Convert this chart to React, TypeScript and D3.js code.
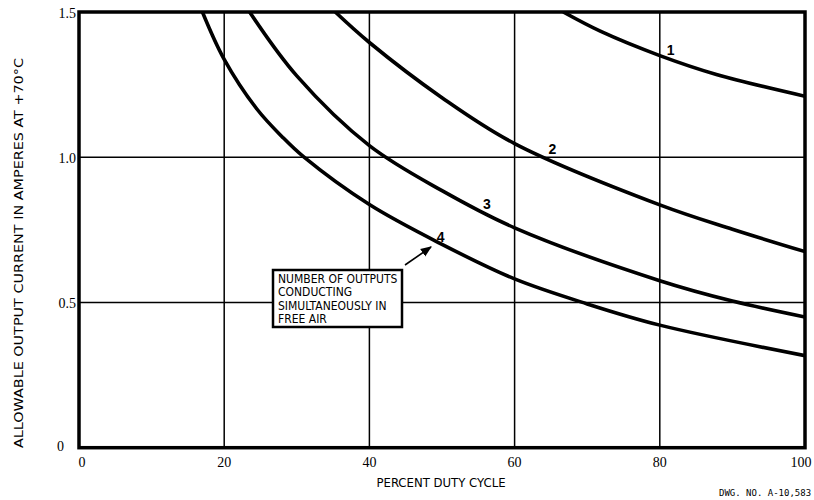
import React from "react";
import * as d3 from "d3";

const xTicks = [0, 20, 40, 60, 80, 100];
const yTicks = [0, 0.5, 1.0, 1.5];
const yTickLabels = ["0", "0.5", "1.0", "1.5"];
const xGrid = [20, 40, 60, 80];
const yGrid = [0.5, 1.0];

const curve1 = [
  [66.7, 1.5], [71.8, 1.434], [80, 1.35], [87.8, 1.285], [100, 1.21],
];
const curve2 = [
  [35.3, 1.5], [40, 1.395], [50, 1.205], [60, 1.047], [80, 0.836], [90, 0.752], [100, 0.675],
];
const curve3 = [
  [23.5, 1.5], [30, 1.28], [40, 1.04], [50, 0.885], [60, 0.757], [80, 0.575], [90, 0.505], [100, 0.45],
];
const curve4 = [
  [17, 1.5], [20, 1.337], [24.5, 1.166], [28, 1.07], [31, 1.0], [40, 0.837], [50, 0.7], [60, 0.581], [70, 0.495], [80, 0.422], [100, 0.317],
];
const curves = [curve1, curve2, curve3, curve4];
const curveLabels = [
  { text: "1", x: 81.5, y: 1.37 },
  { text: "2", x: 65.2, y: 1.03 },
  { text: "3", x: 56.2, y: 0.84 },
  { text: "4", x: 49.8, y: 0.725 },
];
const boxLines = [
  "NUMBER OF OUTPUTS",
  "CONDUCTING",
  "SIMULTANEOUSLY IN",
  "FREE AIR",
];

export default function App() {
  const x = d3.scaleLinear().domain([0, 100]).range([79, 805]);
  const y = d3.scaleLinear().domain([0, 1.5]).range([447.7, 12]);
  const line = d3
    .line<number[]>()
    .x((d) => x(d[0]))
    .y((d) => y(d[1]))
    .curve(d3.curveCatmullRom.alpha(0.5));

  const sans = "'Liberation Sans Narrow', 'DejaVu Sans Condensed', 'Liberation Sans', sans-serif";
  const serif = "'Liberation Serif', 'DejaVu Serif', serif";

  const bx = x(0) + (273 - 79);
  const by0 = y(0) - (447.7 - 270);

  return (
    <svg
      width={814}
      height={500}
      style={{ position: "absolute", left: 0, top: 0, background: "#fff" }}
    >
      <defs>
        <clipPath id="plot">
          <rect x={x(0)} y={y(1.5)} width={x(100) - x(0)} height={y(0) - y(1.5)} />
        </clipPath>
        <marker id="arr" viewBox="0 0 10 10" refX="9" refY="5" markerWidth="7" markerHeight="7" orient="auto">
          <path d="M0,1 L10,5 L0,9 z" fill="#000" />
        </marker>
      </defs>
      <rect x={0} y={0} width={814} height={500} fill="#fff" />
      {xGrid.map((v) => (
        <line key={"gx" + v} x1={x(v)} x2={x(v)} y1={y(1.5)} y2={y(0)} stroke="#000" strokeWidth={1.5} />
      ))}
      {yGrid.map((v) => (
        <line key={"gy" + v} x1={x(0)} x2={x(100)} y1={y(v)} y2={y(v)} stroke="#000" strokeWidth={1.5} />
      ))}
      <g clipPath="url(#plot)">
        {curves.map((c, i) => (
          <path key={"c" + i} d={line(c) || ""} fill="none" stroke="#000" strokeWidth={3.6} />
        ))}
      </g>
      <rect
        x={x(0)}
        y={y(1.5)}
        width={x(100) - x(0)}
        height={y(0) - y(1.5)}
        fill="none"
        stroke="#000"
        strokeWidth={3.5}
      />
      {curveLabels.map((l) => (
        <text
          key={"l" + l.text}
          x={x(l.x)}
          y={y(l.y)}
          fontFamily="'Liberation Sans', Arial, sans-serif"
          fontWeight="bold"
          fontSize={14}
          textAnchor="middle"
          dominantBaseline="central"
        >
          {l.text}
        </text>
      ))}
      <line x1={405} y1={265} x2={431} y2={247} stroke="#000" strokeWidth={1.6} markerEnd="url(#arr)" />
      <rect x={bx} y={by0} width={129} height={57} fill="#fff" stroke="#000" strokeWidth={2.5} />
      {boxLines.map((t, i) => (
        <text
          key={"b" + i}
          x={bx + 5}
          y={by0 + 13 + i * 13.3}
          fontFamily={sans}
          fontSize={12}
          fill="#000"
        >
          {t}
        </text>
      ))}
      {yTicks.map((v, i) => (
        <text
          key={"yt" + v}
          x={v === 0 ? 64 : 76}
          y={y(v) + (v === 0 ? -1 : 1)}
          fontFamily={serif}
          fontSize={14}
          textAnchor="end"
          dominantBaseline="central"
        >
          {yTickLabels[i]}
        </text>
      ))}
      {xTicks.map((v) => (
        <text
          key={"xt" + v}
          x={v === 0 ? x(v) + 3 : v === 100 ? x(v) - 4 : x(v)}
          y={462}
          fontFamily={serif}
          fontSize={14}
          textAnchor="middle"
          dominantBaseline="central"
        >
          {v}
        </text>
      ))}
      <text
        x={441}
        y={482}
        fontFamily={sans}
        fontSize={13}
        textAnchor="middle"
        dominantBaseline="central"
      >
        PERCENT DUTY CYCLE
      </text>
      <text
        transform={`translate(18,${(58 + 448) / 2}) rotate(-90)`}
        fontFamily={sans}
        fontSize={13}
        textAnchor="middle"
        dominantBaseline="central"
        textLength={390}
        lengthAdjust="spacingAndGlyphs"
      >
        ALLOWABLE OUTPUT CURRENT IN AMPERES AT +70°C
      </text>
      <text
        x={719}
        y={493}
        fontFamily="'DejaVu Sans Mono', 'Liberation Mono', monospace"
        fontSize={9}
        dominantBaseline="central"
      >
        DWG. NO. A-10,583
      </text>
    </svg>
  );
}
